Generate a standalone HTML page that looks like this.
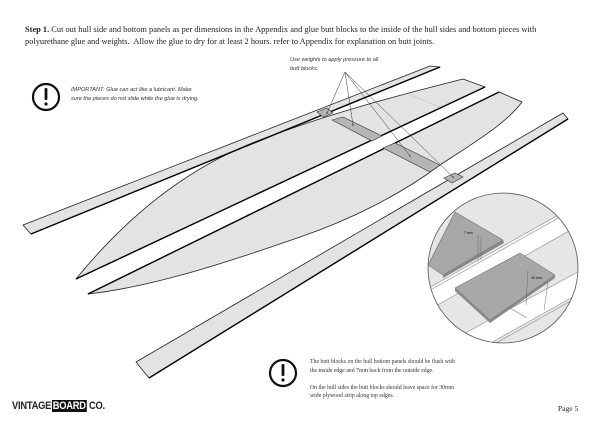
<!DOCTYPE html>
<html><head><meta charset="utf-8"><style>
body{margin:0;width:600px;height:424px;background:#fff;position:relative;overflow:hidden;font-family:"Liberation Serif",serif;color:#222}
.t{position:absolute;font-size:8.4px;line-height:12px}
.i{position:absolute;font-family:"Liberation Sans",sans-serif;font-style:italic;font-size:5.6px;line-height:9px;color:#333}
.s{position:absolute;font-size:5.8px;line-height:8.5px;color:#333}
</style></head><body>
<div class="t" style="left:25px;top:24px;width:545px"><b>Step 1.</b> Cut out hull side and bottom panels as per dimensions in the Appendix and glue butt blocks to the inside of the hull sides and bottom pieces with polyurethane glue and weights.&nbsp; Allow the glue to dry for at least 2 hours. refer to Appendix for explanation on butt joints.</div>
<div class="i" style="left:290px;top:56px">Use weights to apply pressure to all<br>butt blocks.</div>
<div class="i" style="left:71px;top:86px">IMPORTANT: Glue can act like a lubricant. Make<br>sure the pieces do not slide while the glue is drying.</div>
<div class="s" style="left:310px;top:358px">The butt blocks on the hull bottom panels should be flush with<br>the inside edge and 7mm back from the outside edge.<br><br>On the hull sides the butt blocks should leave space for 30mm<br>wide plywood strip along top edges.</div>
<div style="position:absolute;left:12px;top:400px;font-family:'Liberation Sans',sans-serif;font-weight:bold;font-size:11px;letter-spacing:-0.3px;transform:scaleX(0.85);transform-origin:left">VINTAGE<span style="background:#111;color:#fff;padding:0 1px;margin-left:1px">BOARD</span> CO.</div>
<div style="position:absolute;left:558px;top:404px;font-size:7.5px">Page 5</div>
<svg width="600" height="424" style="position:absolute;left:0;top:0">
<g fill="none" stroke="#111" stroke-width="2.2">
<circle cx="46" cy="97" r="13"/><circle cx="283" cy="373" r="13"/>
</g>
<g fill="#111"><rect x="44.6" y="88" width="2.8" height="12" rx="1"/><circle cx="46" cy="104" r="1.6"/>
<rect x="281.6" y="364" width="2.8" height="12" rx="1"/><circle cx="283" cy="380" r="1.6"/></g>
<g fill="#e3e3e3" stroke="#222" stroke-width="0.8" stroke-linejoin="round">
<polygon points="23,225 430,66 440,67 31,234"/>
<path d="M76,279 C120,225 180,170 260,140 C330,113 400,95 463,79 L485,87 Z"/>
<path d="M88,294 L499,92 L522,102 C505,125 470,145 440,165 C400,195 350,220 300,237 C220,265 150,287 88,294 Z"/>
<polygon points="136,362 563,113 568,119 149,378"/>
</g>
<line x1="410" y1="95" x2="440" y2="107" stroke="#bbb" stroke-width="0.5"/>
<g stroke="#000" stroke-width="1.4"><line x1="31" y1="234" x2="440" y2="67"/><line x1="76" y1="279" x2="485" y2="87"/><line x1="88" y1="294" x2="499" y2="92"/><line x1="149" y1="378" x2="568" y2="119"/></g>
<g fill="#b5b5b5" stroke="#333" stroke-width="0.6">
<polygon points="332,120 343,117 382,136 372,141"/>
<polygon points="383,148 395,143 440,165 430,172"/>
<polygon points="317,112 327,108 333,113 323,117"/>
<polygon points="444,178 455,173 463,177 452,183"/>
</g>
<g stroke="#333" stroke-width="0.5"><line x1="345" y1="72" x2="327" y2="113"/><line x1="345" y1="72" x2="353" y2="125"/><line x1="345" y1="72" x2="410" y2="156"/><line x1="345" y1="72" x2="453" y2="177"/></g>
<g fill="#333"><circle cx="327" cy="113" r="0.8"/><circle cx="353" cy="125" r="0.8"/><circle cx="410" cy="156" r="0.8"/><circle cx="453" cy="177" r="0.8"/></g>
<defs><clipPath id="c"><circle cx="503" cy="268" r="75"/></clipPath></defs>
<g clip-path="url(#c)">
<rect x="425" y="190" width="160" height="160" fill="#e6e6e6"/>
<polygon points="425,290 585,200 585,222 425,312" fill="#fff"/>
<polygon points="425,355 585,268 585,290 425,380" fill="#fff"/>
<g stroke="#888" stroke-width="0.6" fill="none"><line x1="425" y1="290" x2="585" y2="200"/><line x1="425" y1="293" x2="585" y2="203"/><line x1="425" y1="312" x2="585" y2="222"/><line x1="425" y1="355" x2="585" y2="268"/><line x1="425" y1="380" x2="585" y2="290"/><line x1="425" y1="383" x2="585" y2="293"/><line x1="505" y1="305" x2="527" y2="318"/></g>
<polygon points="428,265 443,275 503,240 455,212" fill="#a8a8a8" stroke="#555" stroke-width="0.5"/>
<polygon points="443,275 443,278 504,243 503,240" fill="#888"/>
<polygon points="455,288 520,253 555,275 490,320" fill="#a8a8a8" stroke="#555" stroke-width="0.5"/>
<polygon points="455,288 455,291 490,323 490,320" fill="#888"/>
<polygon points="490,320 490,323 555,278 555,275" fill="#888"/>
<g stroke="#555" stroke-width="0.4"><line x1="478" y1="235" x2="478" y2="262"/><line x1="481" y1="237" x2="481" y2="260"/><line x1="528" y1="270" x2="526" y2="305"/><line x1="548" y1="282" x2="544" y2="310"/></g>
<text x="464" y="234" font-size="3.5" font-family="Liberation Sans">7 mm</text>
<text x="531" y="279" font-size="3.5" font-family="Liberation Sans">30 mm</text>
</g>
<circle cx="503" cy="268" r="75" fill="none" stroke="#555" stroke-width="0.8"/>
</svg>
</body></html>
